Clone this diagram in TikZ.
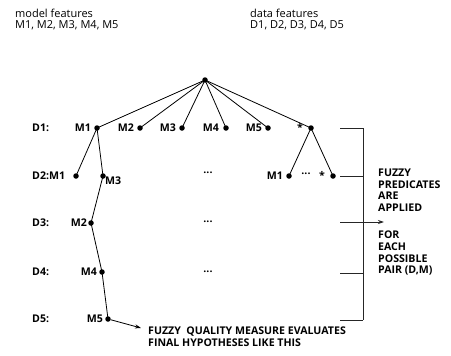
\documentclass[tikz,border=0pt]{standalone}
\usepackage{fontspec}
\setmainfont{Open Sans}
\usetikzlibrary{arrows.meta}
\begin{document}
\begin{tikzpicture}[x=1pt,y=-1pt,
  dot/.style={circle,fill=black,inner sep=0pt,minimum size=5.5pt},
  lbl/.style={inner sep=0pt,font=\fontsize{10.6}{11.6}\selectfont\bfseries},
  toptxt/.style={inner sep=0pt,anchor=west,font=\fontsize{11}{12}\selectfont},
  edge/.style={line width=0.8pt},
  brk/.style={line width=0.9pt,draw=black!85},
  blk/.style={inner sep=0pt,anchor=north west,align=left,font=\fontsize{10.6}{11.6}\selectfont\bfseries}]
\useasboundingbox (0,0) rectangle (451,356);
% header
\node[toptxt] (mf) at (15,13) {model features};
\node[toptxt] (ml) at (15,25) {M1, M2, M3, M4, M5};
\node[toptxt] (df) at (250,13) {data features};
\node[toptxt] (dl) at (250,25) {D1, D2, D3, D4, D5};
% dots
\node[dot] (r) at (205,80) {};
\node[dot] (a1) at (97,128) {};
\node[dot] (a2) at (140,128) {};
\node[dot] (a3) at (182,128) {};
\node[dot] (a4) at (226,128) {};
\node[dot] (a5) at (268,128) {};
\node[dot] (a6) at (311,128) {};
\node[dot] (b1) at (76,176) {};
\node[dot] (b3) at (103,176) {};
\node[dot] (c2) at (91,223) {};
\node[dot] (d4) at (102,272) {};
\node[dot] (e5) at (108,319) {};
\node[dot] (g1) at (289,176) {};
\node[dot] (g2) at (333,176) {};
% edges
\foreach \n in {a1,a2,a3,a4,a5,a6} \draw[edge] (r.center) -- (\n.center);
\draw[edge] (a1.center) -- (b1.center);
\draw[edge] (a1.center) -- (b3.center);
\draw[edge] (b3.center) -- (c2.center);
\draw[edge] (c2.center) -- (d4.center);
\draw[edge] (d4.center) -- (e5.center);
\draw[edge] (a6.center) -- (g1.center);
\draw[edge] (a6.center) -- (g2.center);
% row labels
\node[lbl,anchor=west] (l1) at (32,128) {D1:};
\node[lbl,anchor=west] (l2) at (32,176) {D2:M1};
\node[lbl,anchor=west] (l3) at (32,223) {D3:};
\node[lbl,anchor=west] (l4) at (32,272) {D4:};
\node[lbl,anchor=west] (l5) at (32,319) {D5:};
% node labels
\node[lbl,anchor=east] at (91,128) {M1};
\node[lbl,anchor=east] at (134,128) {M2};
\node[lbl,anchor=east] at (176,128) {M3};
\node[lbl,anchor=east] at (219,128) {M4};
\node[lbl,anchor=east] at (262,128) {M5};
\node[lbl,anchor=east] at (303,127) {*};
\node[lbl,anchor=west] at (105,181) {M3};
\node[lbl,anchor=east] at (87,223) {M2};
\node[lbl,anchor=east] at (97,272) {M4};
\node[lbl,anchor=east] at (103,319) {M5};
\node[lbl,anchor=east] at (283,176) {M1};
\node[lbl] at (306,174) {...};
\node[lbl] at (322,175) {*};
\node[lbl] (el2) at (208,173) {...};
\node[lbl] (el3) at (208,222) {...};
\node[lbl] (el4) at (208,272) {...};
% bracket
\coordinate (bt) at (363,128);
\coordinate (bb) at (363,320);
\draw[brk] (bt) -- (bb);
\foreach \y in {128,176,273,320} \draw[brk] (340,\y) -- (363,\y);
\coordinate (as) at (340,222);
\coordinate (ae) at (384,222);
\draw[brk,-{Stealth[length=6pt,width=4pt]}] (as) -- (ae);
\node[blk] (t1) at (378,169) {FUZZY\\PREDICATES\\ARE\\APPLIED};
\node[blk] (t2) at (378,231) {FOR\\EACH\\POSSIBLE\\PAIR (D,M)};
% bottom
\node[blk] (t3) at (148,327) {FUZZY\ \ QUALITY MEASURE EVALUATES\\FINAL HYPOTHESES LIKE THIS};
\draw[edge,-{Stealth[length=6pt,width=4pt]}] (e5) -- (141,328);
\end{tikzpicture}
\end{document}
